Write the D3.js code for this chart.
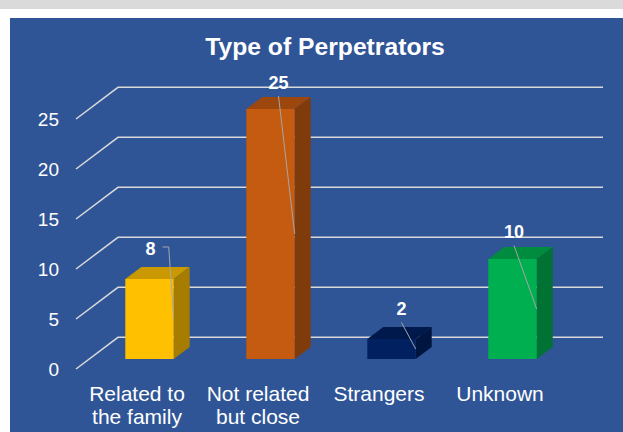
<!DOCTYPE html>
<html>
<head>
<meta charset="utf-8">
<script src="https://cdn.jsdelivr.net/npm/d3@7"></script>
<style>
  body { margin: 0; background: #fff; }
  svg { display: block; font-family: "Liberation Sans", Arial, sans-serif; }
</style>
</head>
<body>
<div id="chart"></div>
<script>
// chart data
const categories = [["Related to", "the family"], ["Not related", "but close"], ["Strangers"], ["Unknown"]];
const values = [8, 25, 2, 10];
const barColors = ["#FFC000", "#C55A11", "#002060", "#00B050"];
const yTicks = [0, 5, 10, 15, 20, 25];
// where the data labels were dragged to (relative to bar centre / top)
const labelNudge = [[1, -30], [8, -26.5], [10, -30], [1.5, -27]];
const leaderSide = [true, false, false, false];

const W = 623, H = 432;
const svg = d3.select("#chart").append("svg").attr("width", W).attr("height", H);

// page frame
svg.append("rect").attr("x", 0).attr("y", 0).attr("width", W).attr("height", 9).attr("fill", "#DADADA");
svg.append("rect").attr("x", 10).attr("y", 18).attr("width", W - 10).attr("height", H - 18).attr("fill", "#2F5597");

// title
svg.append("text")
  .attr("x", 325).attr("y", 55)
  .attr("text-anchor", "middle")
  .attr("font-size", "24.7px").attr("font-weight", "bold")
  .attr("fill", "#fff")
  .text("Type of Perpetrators");

// 3d geometry: back wall, front edge and bar depth
const wall = { x0: 118, x1: 603 };
const front = { dx: -42, dy: 31.7 };
const depth = { dx: 16, dy: -12 };

const yBack = d3.scaleLinear().domain([0, 25]).range([337.3, 87.3]);
const yBar = d3.scaleLinear().domain([0, 25]).range([359, 109]);
const x = d3.scaleBand().domain(d3.range(values.length)).range([89, 573])
  .paddingInner(0.6).paddingOuter(0.3);

// gridlines: floor diagonal + back wall line
const grid = svg.append("g").attr("stroke", "#D9D9D9").attr("stroke-width", 1.5).attr("fill", "none");
grid.selectAll("path").data(yTicks).enter().append("path")
  .attr("d", d => `M${wall.x0 + front.dx},${yBack(d) + front.dy} L${wall.x0},${yBack(d)} H${wall.x1}`);

// y tick labels
svg.append("g").selectAll("text").data(yTicks).enter().append("text")
  .attr("x", 59).attr("y", d => yBack(d) + front.dy)
  .attr("dy", "0.35em")
  .attr("text-anchor", "end")
  .attr("font-size", "19px")
  .attr("fill", "#fff")
  .text(d => d);

// bars
const bars = svg.append("g").selectAll("g").data(values).enter().append("g");
bars.each(function(v, i) {
  const g = d3.select(this);
  const x0 = x(i), x1 = x(i) + x.bandwidth();
  const yt = yBar(v), yb = yBar(0);
  const c = d3.color(barColors[i]);
  g.append("path")
    .attr("d", `M${x0},${yt} L${x0 + depth.dx},${yt + depth.dy} H${x1 + depth.dx} L${x1},${yt} Z`)
    .attr("fill", c.darker(0.65));
  g.append("path")
    .attr("d", `M${x1},${yt} L${x1 + depth.dx},${yt + depth.dy} V${yb + depth.dy} L${x1},${yb} Z`)
    .attr("fill", c.darker(1.2));
  g.append("rect")
    .attr("x", x0).attr("y", yt).attr("width", x.bandwidth()).attr("height", yb - yt)
    .attr("fill", c);
});

// data labels with leader lines
values.forEach((v, i) => {
  const cx = x(i) + x.bandwidth() / 2;
  const lx = cx + labelNudge[i][0];
  const ly = yBar(v) + labelNudge[i][1];
  const ex = x(i) + x.bandwidth();
  const ey = yBar(v / 2);
  const d = leaderSide[i]
    ? `M${lx + 12},${ly - 2} H${ex - 5} L${ex},${ey}`
    : `M${lx},${ly + 13.5} L${ex},${ey}`;
  svg.append("path").attr("d", d)
    .attr("fill", "none").attr("stroke", "#A6A6A6").attr("stroke-width", 1);
  svg.append("text")
    .attr("x", lx).attr("y", ly).attr("dy", "0.35em")
    .attr("text-anchor", "middle")
    .attr("font-size", "18px").attr("font-weight", "bold")
    .attr("fill", "#fff")
    .text(v);
});

// category labels
const cat = svg.append("g").selectAll("text").data(categories).enter().append("text")
  .attr("x", (d, i) => x(i) + x.bandwidth() / 2 - 12.5)
  .attr("y", 401)
  .attr("text-anchor", "middle")
  .attr("font-size", "21px")
  .attr("fill", "#fff");
cat.selectAll("tspan").data(d => d).enter().append("tspan")
  .attr("x", function() { return d3.select(this.parentNode).attr("x"); })
  .attr("dy", (d, j) => j ? 23 : 0)
  .text(d => d);
</script>
</body>
</html>
